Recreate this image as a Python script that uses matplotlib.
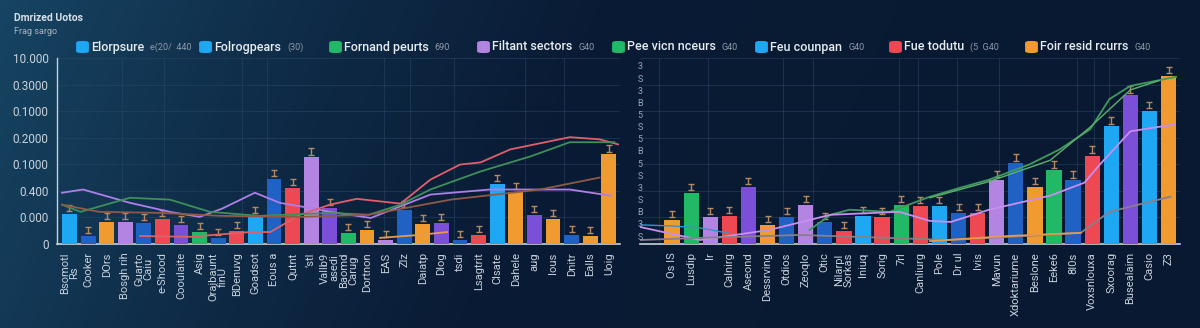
import numpy as np
import matplotlib
matplotlib.use("Agg")
import matplotlib.pyplot as plt
from matplotlib.colors import LinearSegmentedColormap
from matplotlib.patches import FancyBboxPatch

plt.rcParams["font.family"] = ["Roboto", "DejaVu Sans"]

# ---- palette ----
C = {"lb": "#1ea7f2", "bl": "#1f62c4", "or": "#f09a30", "pu": "#7b4fd8",
     "la": "#b484e2", "re": "#ee4852", "gr": "#21b866"}

# ---- data: left panel ----
left_vals = [1.14, 0.30, 0.83, 0.83, 0.80, 0.95, 0.72, 0.45, 0.23, 0.49,
             1.06, 2.46, 2.12, 3.26, 1.35, 0.42, 0.53, 0.15, 1.29, 0.76,
             0.80, 0.15, 0.34, 2.27, 1.97, 1.10, 0.95, 0.34, 0.30, 3.37]
left_cols = ["lb", "bl", "or", "la", "bl", "re", "pu", "gr", "bl", "re",
             "lb", "bl", "re", "la", "pu", "gr", "or", "la", "bl", "or",
             "pu", "bl", "re", "lb", "or", "pu", "or", "bl", "or", "or"]
left_labels = ["Bsomotl\nRs", "Cooker", "DOrs", "Bosgh rih", "Guarto\nCaiu",
               "e-Shood", "Cooulaite", "Asig", "Oraibaunt\nfinU", "BDenuvg",
               "Goadsot", "Eous a", "Qutnt", "\u2019stl", "Vallb9\nasedi",
               "Baomd\nCarug", "Dortnon", "EAS", "Zlz", "Daiatp",
               "Dlog", "tsdi", "Lsagtrit", "Clsate", "Dahele",
               "aug", "Ious", "Dnitr", "Ealls", "Uoig"]

# ---- data: right panel ----
right_vals = [0.91, 1.93, 1.02, 1.06, 2.16, 0.72, 1.02, 1.48, 0.83, 0.49,
              1.06, 1.02, 1.48, 1.44, 1.44, 1.17, 1.17, 2.42, 3.03, 2.16,
              2.77, 2.39, 3.33, 4.43, 5.60, 5.00, 6.33]
right_cols = ["or", "gr", "la", "re", "pu", "or", "bl", "la", "bl", "re",
              "lb", "re", "gr", "re", "lb", "bl", "re", "la", "bl", "or",
              "gr", "bl", "re", "lb", "pu", "lb", "or"]
right_labels = ["Os IS", "Lusdip", "Ir", "Calnirg", "Aseond", "Dessrving",
                "Otdios", "Zeoqlo", "Otic", "Nilarpl\nSorkas", "Iniuq",
                "Sorig", "7rl", "Canliurg", "Pole", "Dr ul", "Ivis",
                "Mavun", "Xdoktariume", "Beslone", "Eeke6", "8I0s",
                "Voxsnlouxa", "Sxoorag", "Busealaim", "Casio", "Z3"]

# ---- line series (x in bar index units) ----
l_lav_x = [-0.4, 0.73, 3.25, 5.4, 7.0, 8.2, 9.97, 11.3, 12.9, 14.0, 16.2, 19.4, 22.6, 26.9, 29.1]
l_lav_y = [1.93, 2.05, 1.55, 1.21, 1.02, 1.33, 1.93, 1.55, 1.36, 1.21, 0.98, 1.86, 2.05, 2.05, 1.82]
l_red_x = [3.8, 6.5, 9.7, 10.8, 12.4, 14.0, 15.45, 17.8, 19.4, 21.0, 22.1, 23.7, 26.9, 28.5, 29.5]
l_red_y = [0.30, 0.27, 0.45, 0.45, 1.10, 1.48, 1.70, 1.52, 2.42, 2.99, 3.07, 3.56, 4.02, 3.94, 3.75]
l_grn_x = [-0.4, 0.6, 3.25, 5.4, 7.55, 10.2, 14.0, 16.1, 17.8, 19.4, 22.1, 24.8, 26.9, 29.3]
l_grn_y = [1.48, 1.21, 1.74, 1.67, 1.21, 1.06, 1.17, 1.10, 1.48, 2.05, 2.73, 3.30, 3.83, 3.83]
l_brn_x = [-0.4, 1.6, 4.9, 8.1, 12.4, 16.1, 20.5, 25.3, 28.5]
l_brn_y = [1.48, 1.21, 1.17, 1.06, 1.02, 1.10, 1.67, 2.05, 2.50]
l_org_x = [16.7, 18.8, 20.3]
l_org_y = [0.23, 0.34, 0.45]

r_grn_x = [7.2, 8.3, 9.3, 11.4, 13.5, 15.1, 16.6, 18.7, 20.3, 21.9, 22.9, 24.0, 26.4]
r_grn_y = [0.53, 1.10, 1.29, 1.21, 1.78, 2.12, 2.42, 2.99, 3.56, 4.32, 5.45, 5.95, 6.29]
r_grn2_x = [13.5, 16.6, 19.8, 21.9, 24.0, 25.5]
r_grn2_y = [1.74, 2.35, 3.15, 4.40, 5.80, 6.15]
r_lav_x = [-1.68, 1.47, 5.1, 8.3, 11.9, 13.5, 14.6, 16.6, 19.8, 21.6, 22.4, 24.0, 26.3]
r_lav_y = [0.64, 0.15, 0.53, 1.10, 1.21, 0.87, 0.83, 1.29, 1.82, 2.31, 2.99, 4.24, 4.50]
r_gry_x = [-1.68, 1.47, 6.7, 14.6, 21.4, 22.9, 26.1]
r_gry_y = [0.15, 0.23, 0.34, 0.15, 0.42, 1.21, 1.78]
r_org_x = [13.5, 17.6, 21.4]
r_org_y = [0.11, 0.30, 0.42]
r_lb_x = [-1.68, 0.0, 1.5, 3.0]
r_lb_y = [0.72, 0.68, 0.60, 0.40]

ytick_labels = ["0", "0.000", "0.400", "0.1000", "0.2000", "0.1000", "0.3000", "10.000"]

legend_names = ["Elorpsure", "Folrogpears", "Fornand peurts", "Filtant sectors",
                "Pee vicn nceurs", "Feu counpan", "Fue todutu", "Foir resid rcurrs"]
legend_notes = ["e(20/  440", "(30)", "690", "G40", "G40", "G40", "(5  G40", "G40"]
legend_cols = ["lb", "lb", "gr", "la", "gr", "lb", "re", "or"]

# ---- figure ----
fig = plt.figure(figsize=(12, 3.28), dpi=100)

bg = fig.add_axes([0, 0, 1, 1], zorder=-10)
cmap = LinearSegmentedColormap.from_list(
    "bg", [(0, "#164462"), (0.25, "#0f2c48"), (0.5, "#0a1b35"), (1, "#081931")])
gx = np.linspace(0, 1, 400)
gy = np.linspace(0, 1, 100)
GX, GY = np.meshgrid(gx, gy)
bg.imshow(np.clip(GX + 0.12 * GY, 0, 1), cmap=cmap, aspect="auto",
          extent=[0, 1, 0, 1], origin="upper")
bg.axis("off")

ax1 = fig.add_axes([57 / 1200, 84 / 328, 563 / 1200, 186 / 328])
ax2 = fig.add_axes([640 / 1200, 84 / 328, 540 / 1200, 186 / 328])


def style(ax, vals, cols, labels, xlim, vgrid):
    ax.set_facecolor("none")
    x = np.arange(len(vals))
    ax.bar(x, vals, width=0.8, color=[C[c] for c in cols], zorder=3)
    ax.errorbar(x, np.array(vals) + 0.22, yerr=0.12, fmt="none",
                ecolor="#b58a62", elinewidth=1, capsize=2, zorder=4)
    ax.set_xlim(*xlim)
    ax.set_ylim(0, 7)
    ax.set_xticks(x)
    ax.set_xticklabels(labels, rotation=90, fontsize=8, color="#c9d2dc",
                       linespacing=0.95)
    ax.tick_params(axis="x", length=0, pad=6)
    for s in ["top", "right"]:
        ax.spines[s].set_visible(False)
    ax.spines["bottom"].set_color("#c8d0da")
    ax.spines["bottom"].set_linewidth(1.2)
    for yv in range(1, 8):
        ax.axhline(yv, color="#2a4866", lw=0.6, alpha=0.6, zorder=1)
    for xv in vgrid:
        ax.axvline(xv, color="#2a4866", lw=0.6, alpha=0.6, zorder=1)


style(ax1, left_vals, left_cols, left_labels, (-0.67, 29.6),
      [2.8, 5.1, 9.3, 10.6, 16.9, 18.3, 20.7, 24.5, 26.6])
style(ax2, right_vals, right_cols, right_labels, (-1.68, 26.6),
      [-0.7, 1.9, 5.8, 7.4, 11.9, 12.9, 14.9, 17.1, 21.2, 22.1, 22.9])

ax1.set_yticks(range(8))
ax1.set_yticklabels(ytick_labels, fontsize=8.5, color="#c9d2dc")
ax1.tick_params(axis="y", length=0, pad=6)
ax1.spines["left"].set_color("#c8d0da")
ax1.spines["left"].set_linewidth(1)
ax2.set_yticks([])
ax2.spines["left"].set_visible(False)

lw = 1.3
ax1.plot(l_lav_x, l_lav_y, color="#b07ee8", lw=lw, zorder=5)
ax1.plot(l_red_x, l_red_y, color="#e0606a", lw=lw, zorder=5)
ax1.plot(l_grn_x, l_grn_y, color="#3f8f58", lw=lw, zorder=5)
ax1.plot(l_brn_x, l_brn_y, color="#8f5a45", lw=lw, zorder=5)
ax1.plot(l_org_x, l_org_y, color="#e79a4a", lw=lw, zorder=5)

ax2.plot(r_grn_x, r_grn_y, color="#3f9a5e", lw=lw, zorder=5)
ax2.plot(r_grn2_x, r_grn2_y, color="#5fb06e", lw=1.0, zorder=5)
ax2.plot(r_lav_x, r_lav_y, color="#c88ef0", lw=lw, zorder=5)
ax2.plot(r_gry_x, r_gry_y, color="#8a7f88", lw=lw, zorder=5)
ax2.plot(r_org_x, r_org_y, color="#e79a4a", lw=lw, zorder=5)
ax2.plot(r_lb_x, r_lb_y, color="#3f8fc8", lw=1.0, zorder=5)

# garbled tick column between panels
fig.text(640 / 1200, 1 - 152 / 328, "\n".join("3S3B5S5B5S3SB3S"), fontsize=6.5,
         color="#9aa6b4", ha="center", va="center", linespacing=1.45)

# title
fig.text(14 / 1200, 1 - 18 / 328, "Dmrized Uotos", fontsize=7.5,
         color="#d8e0ea", fontweight="bold", va="center")
fig.text(14 / 1200, 1 - 32 / 328, "Frag sargo", fontsize=6.5,
         color="#a8b4c2", va="center")

# legend
leg_x = [78, 201, 331, 479, 614, 757, 891, 1027]
r = fig.canvas.get_renderer()
for xp, name, note, col in zip(leg_x, legend_names, legend_notes, legend_cols):
    sq = FancyBboxPatch((xp / 1200, 1 - 52 / 328), 9 / 1200, 10 / 328,
                        boxstyle="round,pad=0.001,rounding_size=0.004",
                        transform=fig.transFigure, color=C[col], zorder=5)
    fig.patches.append(sq)
    t = fig.text((xp + 13) / 1200, 1 - 47 / 328, name, fontsize=9,
                 color="#e6ecf2", va="center", fontweight="medium")
    bb = t.get_window_extent(renderer=r)
    fig.text((bb.x1 + 6) / 1200, 1 - 47 / 328, note, fontsize=6.5,
             color="#8e9aa8", va="center")

fig.savefig("out.png", dpi=100)
